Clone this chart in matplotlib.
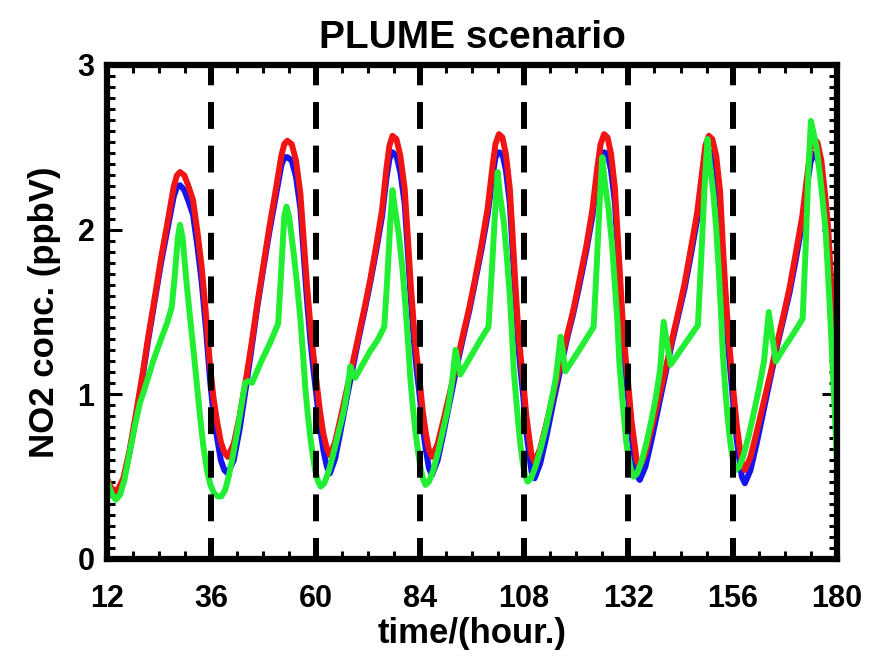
import matplotlib
matplotlib.use("Agg")
import matplotlib.pyplot as plt
from matplotlib.ticker import MultipleLocator, FixedLocator

# time axis (hours) shared by the red and blue runs
t_rb = [12.0, 13.0, 14.3, 15.75, 17.2, 18.65, 20.1, 21.55, 23.0, 24.45, 25.9, 27.35, 28.1, 28.8,
        29.8, 30.8, 31.8, 32.8, 33.8, 34.8, 35.7, 36.5, 37.3, 38.2, 39.0, 39.8,
        41.17, 42.54, 43.91, 45.28, 46.65, 48.02, 49.39, 50.76, 52.13, 52.8, 53.5,
        54.5, 55.5, 56.5, 57.3, 58.0, 58.8, 59.5, 60.3, 61.0, 61.8, 62.6, 63.3,
        64.5, 65.7, 67.2, 68.7, 70.0, 71.3, 72.6, 74.0, 75.3, 76.3, 77.0, 77.7,
        78.6, 79.5, 80.5, 81.25, 81.9, 82.6, 83.25, 84.0, 84.7, 85.4, 86.1, 86.8,
        88.1, 89.4, 91.0, 92.6, 94.0, 95.4, 96.7, 98.2, 99.6, 100.7, 101.4, 102.2,
        103.0, 103.8, 104.7, 105.4, 106.0, 106.6, 107.2, 107.9, 108.5, 109.2, 109.7, 110.4,
        111.7, 113.1, 114.7, 116.4, 117.8, 119.3, 120.7, 122.3, 123.7, 124.8, 125.6, 126.4,
        127.2, 128.0, 128.9, 129.6, 130.2, 130.8, 131.4, 132.1, 132.7, 133.4, 133.9, 134.6,
        135.9, 137.3, 138.9, 140.6, 142.0, 143.4, 144.9, 146.4, 147.8, 149.0, 149.7, 150.5,
        151.3, 152.2, 153.1, 153.7, 154.3, 155.0, 155.6, 156.2, 156.9, 157.6, 158.1, 158.8,
        160.1, 161.5, 163.1, 164.8, 166.2, 167.6, 169.1, 170.6, 172.0, 173.2, 173.9, 174.7,
        175.5, 176.4, 177.3, 178.0, 178.7, 179.3, 180.0]

red_no2 = [0.49, 0.43, 0.41, 0.49, 0.66, 0.88, 1.11, 1.36, 1.59, 1.83, 2.04, 2.26, 2.33, 2.35,
           2.33, 2.26, 2.18, 1.99, 1.77, 1.48, 1.18, 0.98, 0.84, 0.71, 0.65, 0.62,
           0.70, 0.87, 1.08, 1.31, 1.56, 1.79, 2.02, 2.23, 2.45, 2.52, 2.54,
           2.52, 2.42, 2.22, 1.93, 1.67, 1.42, 1.24, 1.06, 0.90, 0.76, 0.67, 0.63,
           0.71, 0.85, 1.03, 1.21, 1.37, 1.53, 1.70, 1.91, 2.12, 2.37, 2.51, 2.57,
           2.55, 2.45, 2.25, 1.95, 1.67, 1.42, 1.24, 1.07, 0.89, 0.76, 0.66, 0.62,
           0.70, 0.84, 1.02, 1.21, 1.37, 1.53, 1.70, 1.91, 2.13, 2.38, 2.52, 2.58,
           2.56, 2.46, 2.25, 1.94, 1.66, 1.41, 1.23, 1.05, 0.87, 0.73, 0.63, 0.59,
           0.67, 0.82, 1.00, 1.19, 1.35, 1.51, 1.69, 1.90, 2.12, 2.37, 2.52, 2.58,
           2.56, 2.46, 2.25, 1.93, 1.65, 1.39, 1.21, 1.02, 0.84, 0.70, 0.60, 0.56,
           0.64, 0.79, 0.97, 1.16, 1.33, 1.49, 1.67, 1.89, 2.10, 2.36, 2.51, 2.57,
           2.55, 2.45, 2.23, 1.92, 1.64, 1.37, 1.19, 1.01, 0.82, 0.68, 0.58, 0.54,
           0.62, 0.77, 0.95, 1.14, 1.31, 1.47, 1.65, 1.87, 2.08, 2.34, 2.49, 2.55,
           2.53, 2.42, 2.20, 2.00, 1.65, 1.30, 0.90]

blue_no2 = [0.48, 0.39, 0.37, 0.47, 0.65, 0.86, 1.09, 1.34, 1.57, 1.80, 2.00, 2.20, 2.26, 2.27,
            2.24, 2.17, 2.09, 1.90, 1.68, 1.39, 1.09, 0.88, 0.74, 0.60, 0.54, 0.52,
            0.60, 0.79, 1.03, 1.28, 1.54, 1.77, 1.99, 2.19, 2.39, 2.44, 2.44,
            2.42, 2.32, 2.13, 1.84, 1.58, 1.33, 1.15, 0.97, 0.80, 0.66, 0.56, 0.52,
            0.61, 0.77, 0.98, 1.18, 1.35, 1.51, 1.68, 1.88, 2.08, 2.31, 2.43, 2.47,
            2.45, 2.35, 2.16, 1.86, 1.58, 1.33, 1.15, 0.98, 0.79, 0.66, 0.55, 0.51,
            0.60, 0.76, 0.97, 1.18, 1.35, 1.51, 1.68, 1.88, 2.09, 2.32, 2.44, 2.47,
            2.46, 2.36, 2.16, 1.85, 1.57, 1.32, 1.14, 0.96, 0.77, 0.63, 0.53, 0.49,
            0.58, 0.74, 0.95, 1.16, 1.33, 1.49, 1.66, 1.87, 2.08, 2.31, 2.44, 2.47,
            2.46, 2.36, 2.16, 1.84, 1.56, 1.30, 1.12, 0.93, 0.75, 0.60, 0.51, 0.48,
            0.56, 0.72, 0.92, 1.13, 1.31, 1.47, 1.64, 1.85, 2.06, 2.30, 2.43, 2.48,
            2.46, 2.36, 2.14, 1.83, 1.55, 1.28, 1.10, 0.92, 0.73, 0.59, 0.50, 0.46,
            0.54, 0.70, 0.90, 1.11, 1.29, 1.45, 1.62, 1.83, 2.04, 2.28, 2.41, 2.46,
            2.44, 2.33, 2.10, 1.88, 1.52, 1.15, 0.74]

t_green = [12.0, 13.0, 14.0, 15.0, 16.0, 17.3, 18.5, 19.6, 20.5, 22.6, 24.5, 25.8, 26.9, 27.6, 28.3, 28.8,
           29.4, 30.3, 31.1, 31.9, 32.7, 33.4, 34.2, 35.0, 35.8, 36.6, 37.5, 38.3,
           39.2, 40.0, 41.0, 42.0, 43.0, 43.8, 44.5, 45.4, 47.5, 49.5, 51.4, 52.2, 52.8, 53.3,
           53.9, 54.9, 55.7, 56.5, 57.1, 57.6, 58.2, 58.8, 59.4, 59.9, 60.6, 61.2,
           62.0, 63.0, 64.1, 65.2, 66.4, 67.3, 68.0, 68.5, 69.1, 70.8, 72.5, 74.3, 75.8, 76.5, 77.2, 77.7,
           78.3, 79.2, 80.0, 80.7, 81.3, 81.8, 82.4, 83.0, 83.6, 84.1, 84.7, 85.3,
           86.1, 87.1, 88.2, 89.3, 90.5, 91.4, 92.2, 93.3, 95.5, 97.7, 99.8, 100.5, 101.3, 101.9,
           102.4, 103.3, 104.0, 104.7, 105.2, 105.6, 106.2, 106.7, 107.2, 107.7, 108.2, 108.8,
           109.6, 110.6, 111.8, 113.0, 114.2, 115.3, 116.4, 117.5, 119.7, 121.9, 124.0, 124.7, 125.4, 126.0,
           126.5, 127.4, 128.2, 128.9, 129.5, 129.9, 130.5, 131.0, 131.5, 132.0, 132.6, 133.2,
           134.0, 135.0, 136.1, 137.2, 138.3, 139.3, 140.1, 141.7, 143.8, 145.9, 148.0, 148.7, 149.5, 150.2,
           150.7, 151.5, 152.2, 152.8, 153.3, 153.7, 154.2, 154.7, 155.2, 155.7, 156.2, 156.7,
           157.5, 158.5, 159.6, 160.8, 162.0, 163.2, 164.3, 165.9, 168.0, 170.0, 172.1, 172.8, 173.4, 174.0,
           174.5, 175.3, 176.0, 176.7, 177.4, 178.2, 179.0, 180.0]

green_no2 = [0.48, 0.40, 0.36, 0.39, 0.48, 0.66, 0.82, 0.95, 1.02, 1.20, 1.34, 1.43, 1.53, 1.72, 1.95, 2.03,
             1.95, 1.68, 1.47, 1.27, 1.06, 0.87, 0.68, 0.54, 0.45, 0.40, 0.38, 0.38,
             0.42, 0.50, 0.63, 0.78, 0.94, 1.07, 1.08, 1.07, 1.20, 1.31, 1.43, 1.80, 2.08, 2.14,
             2.08, 1.87, 1.68, 1.46, 1.25, 1.05, 0.88, 0.74, 0.62, 0.54, 0.47, 0.44,
             0.46, 0.53, 0.64, 0.76, 0.89, 1.02, 1.17, 1.13, 1.10, 1.18, 1.26, 1.33, 1.41, 1.70, 2.05, 2.24,
             2.12, 1.96, 1.76, 1.53, 1.31, 1.10, 0.92, 0.77, 0.65, 0.56, 0.49, 0.45,
             0.47, 0.54, 0.65, 0.78, 0.92, 1.07, 1.27, 1.12, 1.22, 1.32, 1.41, 1.72, 2.10, 2.35,
             2.22, 2.05, 1.84, 1.60, 1.37, 1.15, 0.96, 0.81, 0.68, 0.58, 0.51, 0.47,
             0.49, 0.56, 0.67, 0.80, 0.95, 1.10, 1.35, 1.14, 1.23, 1.32, 1.41, 1.78, 2.18, 2.44,
             2.30, 2.13, 1.92, 1.66, 1.43, 1.20, 1.00, 0.85, 0.71, 0.62, 0.54, 0.50,
             0.52, 0.59, 0.70, 0.83, 0.98, 1.15, 1.44, 1.18, 1.26, 1.34, 1.42, 1.80, 2.25, 2.55,
             2.41, 2.23, 2.01, 1.75, 1.50, 1.26, 1.06, 0.90, 0.76, 0.66, 0.58, 0.54,
             0.56, 0.63, 0.74, 0.88, 1.03, 1.20, 1.50, 1.20, 1.29, 1.37, 1.46, 1.90, 2.35, 2.66,
             2.60, 2.50, 2.35, 2.18, 1.99, 1.60, 1.17, 0.60]

day_marks = [36, 60, 84, 108, 132, 156]
x_ticks = [12, 36, 60, 84, 108, 132, 156, 180]
y_ticks = [0, 1, 2, 3]

plt.rcParams['font.family'] = ['Liberation Sans', 'DejaVu Sans']

fig = plt.figure(figsize=(8.87, 6.67), dpi=100)
ax = fig.add_axes([107 / 887, 1 - 559 / 667, 730 / 887, 494 / 667])

lw = 4.3
ax.plot(t_rb, blue_no2, color='#1414f0', lw=lw, solid_joinstyle='round', zorder=2)
ax.plot(t_rb, red_no2, color='#f01414', lw=lw, solid_joinstyle='round', zorder=3)
ax.plot(t_green, green_no2, color='#22ee33', lw=lw, solid_joinstyle='round', zorder=4)

# dashed day separators, drawn from the top down
ax.vlines(day_marks, 3.0, 0.0, colors='black', lw=4.3,
          linestyles=[(1.1, (4.5, 2.8))], zorder=5)

ax.set_xlim(12, 180)
ax.set_ylim(0, 3)
ax.xaxis.set_major_locator(FixedLocator(x_ticks))
ax.xaxis.set_minor_locator(MultipleLocator(6))
ax.yaxis.set_major_locator(FixedLocator(y_ticks))
ax.yaxis.set_minor_locator(MultipleLocator(1 / 15))

for s in ax.spines.values():
    s.set_linewidth(4.5)
    s.set_zorder(6)
ax.tick_params(which='both', direction='in', top=True, right=True, width=2.2, color='black')
ax.tick_params(which='major', length=11)
ax.tick_params(which='minor', length=5.5)
ax.tick_params(axis='x', which='major', labelsize=22, pad=18)
ax.tick_params(axis='y', which='major', labelsize=22, pad=9)
for lab in ax.get_xticklabels() + ax.get_yticklabels():
    lab.set_fontweight('bold')

ax.set_xlabel('time/(hour.)', fontsize=25, fontweight='bold', labelpad=2)
ax.set_ylabel('NO2 conc. (ppbV)', fontsize=25, fontweight='bold', labelpad=12)
ax.set_title('PLUME scenario', fontsize=28, fontweight='bold', pad=12)

fig.savefig('out.png', dpi=100)
